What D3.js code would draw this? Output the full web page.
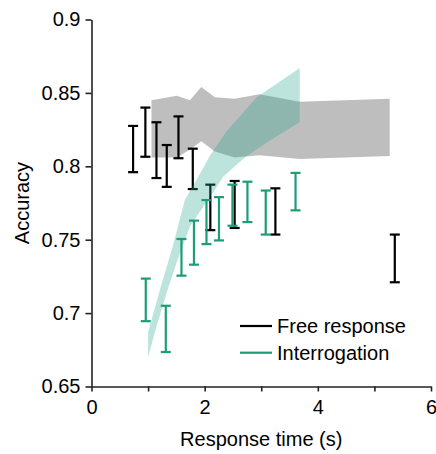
<!DOCTYPE html>
<html>
<head>
<meta charset="utf-8">
<script src="https://cdn.jsdelivr.net/npm/d3@7"></script>
<style>
  body { margin: 0; background: #fff; }
  text { font-family: "Liberation Sans", Arial, sans-serif; fill: #000; }
</style>
</head>
<body>
<svg id="chart"></svg>
<script>
// free response: measured mean RT and accuracy error bars
const freeRT = [0.735, 0.952, 1.148, 1.33, 1.537, 1.79, 2.1, 2.53, 3.25, 5.36];
const freeLo = [0.796, 0.8065, 0.792, 0.786, 0.8055, 0.7845, 0.7565, 0.758, 0.7535, 0.721];
const freeHi = [0.8275, 0.84, 0.83, 0.8145, 0.834, 0.812, 0.7875, 0.79, 0.785, 0.7535];

// interrogation
const intRT = [0.959, 1.313, 1.59, 1.811, 2.032, 2.253, 2.491, 2.756, 3.079, 3.606];
const intLo = [0.6945, 0.6735, 0.7255, 0.733, 0.747, 0.7495, 0.7595, 0.762, 0.7535, 0.77];
const intHi = [0.7235, 0.705, 0.7505, 0.763, 0.777, 0.779, 0.7875, 0.7895, 0.7835, 0.7955];

// model band for free response (grey)
const freeModelRT = [1.06, 1.51, 1.74, 1.94, 2.18, 2.53, 2.97, 3.68, 5.27];
const freeModelLo = [0.806, 0.806, 0.8115, 0.817, 0.81, 0.806, 0.8075, 0.805, 0.807];
const freeModelHi = [0.845, 0.848, 0.845, 0.854, 0.847, 0.846, 0.849, 0.844, 0.846];

// model band for interrogation (teal), upper and lower edges
const intModelUpRT = [1.0, 1.0, 1.21, 1.44, 1.65, 1.86, 2.09, 2.39, 2.92, 3.68];
const intModelUpAcc = [0.67, 0.687, 0.716, 0.746, 0.777, 0.791, 0.807, 0.824, 0.847, 0.867];
const intModelLoRT = [1.0, 1.15, 1.33, 1.5, 1.74, 2.18, 2.33, 2.74, 3.21, 3.68];
const intModelLoAcc = [0.67, 0.691, 0.714, 0.734, 0.759, 0.784, 0.793, 0.807, 0.819, 0.83];

const xTicks = [0, 1, 2, 3, 4, 5, 6];
const yTicks = [0.65, 0.7, 0.75, 0.8, 0.85, 0.9];
const legendNames = ["Free response", "Interrogation"];

const settings = {
  width: 436,
  height: 454,
  left: 91.5,
  right: 431,
  top: 19.5,
  bottom: 386.5,
  capWidth: 10,
  black: "#000",
  teal: "#1b9e77",
  tealBand: "#26a68c",
  grey: "#bebebe",
  fontSize: 20,
};

const svg = d3
  .select("#chart")
  .attr("width", settings.width)
  .attr("height", settings.height);

const x = d3.scaleLinear().domain([0, 6]).range([settings.left, settings.right]);
const y = d3.scaleLinear().domain([0.65, 0.9]).range([settings.bottom, settings.top]);

// grey band
const greyData = freeModelRT.map((rt, i) => ({ rt, lo: freeModelLo[i], hi: freeModelHi[i] }));
svg
  .append("path")
  .datum(greyData)
  .attr("fill", settings.grey)
  .attr(
    "d",
    d3
      .area()
      .x((d) => x(d.rt))
      .y0((d) => y(d.lo))
      .y1((d) => y(d.hi)),
  );

function errorBars(rts, lo, hi, color) {
  const data = rts.map((rt, i) => ({ rt, lo: lo[i], hi: hi[i] }));
  const g = svg.append("g").attr("stroke", color).attr("stroke-width", 2.2).attr("fill", "none");
  const bars = g.selectAll("g").data(data).join("g");
  bars
    .append("line")
    .attr("x1", (d) => x(d.rt))
    .attr("x2", (d) => x(d.rt))
    .attr("y1", (d) => y(d.lo))
    .attr("y2", (d) => y(d.hi));
  bars
    .append("line")
    .attr("x1", (d) => x(d.rt) - settings.capWidth / 2)
    .attr("x2", (d) => x(d.rt) + settings.capWidth / 2)
    .attr("y1", (d) => y(d.hi))
    .attr("y2", (d) => y(d.hi));
  bars
    .append("line")
    .attr("x1", (d) => x(d.rt) - settings.capWidth / 2)
    .attr("x2", (d) => x(d.rt) + settings.capWidth / 2)
    .attr("y1", (d) => y(d.lo))
    .attr("y2", (d) => y(d.lo));
}

errorBars(freeRT, freeLo, freeHi, settings.black);

// teal band drawn over the black bars, semi transparent
const tealOutline = intModelUpRT
  .map((rt, i) => [rt, intModelUpAcc[i]])
  .concat(intModelLoRT.map((rt, i) => [rt, intModelLoAcc[i]]).reverse());

const outlineLine = d3
  .line()
  .x((d) => x(d[0]))
  .y((d) => y(d[1]));

svg
  .append("path")
  .attr("fill", settings.tealBand)
  .attr("fill-opacity", 0.3)
  .attr("d", outlineLine(tealOutline) + "Z");

errorBars(intRT, intLo, intHi, settings.teal);

// axes
const xAxis = svg
  .append("g")
  .attr("transform", `translate(0,${settings.bottom})`)
  .call(
    d3
      .axisBottom(x)
      .tickValues(xTicks)
      .tickSize(5)
      .tickSizeOuter(0)
      .tickPadding(8)
      .tickFormat((d) => (d % 2 === 0 ? d : "")),
  );

const yAxis = svg
  .append("g")
  .attr("transform", `translate(${settings.left},0)`)
  .call(
    d3
      .axisLeft(y)
      .tickValues(yTicks)
      .tickSize(6)
      .tickSizeOuter(0)
      .tickPadding(5)
      .tickFormat((d) => +d.toFixed(2)),
  );

[xAxis, yAxis].forEach((axis) => {
  axis.select(".domain").attr("stroke", "#222").attr("stroke-width", 1.6);
  axis.selectAll(".tick line").attr("stroke", "#222").attr("stroke-width", 1.6);
  axis
    .selectAll(".tick text")
    .attr("fill", "#000")
    .style("font-size", `${settings.fontSize}px`)
    .style("font-family", '"Liberation Sans", Arial, sans-serif');
});

svg
  .append("text")
  .attr("x", x(3))
  .attr("y", 446)
  .attr("text-anchor", "middle")
  .style("font-size", `${settings.fontSize}px`)
  .text("Response time (s)");

svg
  .append("text")
  .attr("transform", `translate(29,${(settings.top + settings.bottom) / 2}) rotate(-90)`)
  .attr("text-anchor", "middle")
  .style("font-size", `${settings.fontSize}px`)
  .text("Accuracy");

// legend
const legend = svg
  .selectAll("g.legend-item")
  .data(legendNames)
  .join("g")
  .attr("class", "legend-item")
  .attr("transform", (d, i) => `translate(240,${326 + i * 26.7})`);

legend
  .append("line")
  .attr("x1", 0)
  .attr("x2", 32)
  .attr("stroke", (d, i) => (i === 0 ? settings.black : settings.teal))
  .attr("stroke-width", 2.2);

legend
  .append("text")
  .attr("x", 37)
  .attr("dy", "0.35em")
  .style("font-size", `${settings.fontSize}px`)
  .text((d) => d);
</script>
</body>
</html>
